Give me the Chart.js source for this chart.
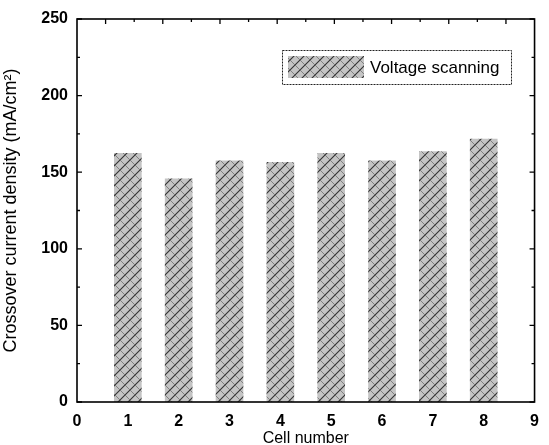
<!DOCTYPE html>
<html><head><meta charset="utf-8">
<script src="https://cdn.jsdelivr.net/npm/chart.js@4"></script>
<style>html,body{margin:0;padding:0;background:#fff}#c{display:block}</style>
</head><body>
<canvas id="c" width="549" height="445"></canvas>
<script>
const cells = [1, 2, 3, 4, 5, 6, 7, 8];
const crossoverCurrent = [162.3, 145.6, 157.5, 156.5, 162.3, 157.5, 163.4, 171.7];
const xTicks = [0, 1, 2, 3, 4, 5, 6, 7, 8, 9];
const yTicks = [0, 50, 100, 150, 200, 250];
const seriesLabel = 'Voltage scanning';
const xTitle = 'Cell number';
const yTitle = 'Crossover current density (mA/cm\u00B2)';

function makePattern() {
  const t = document.createElement('canvas');
  t.width = 10; t.height = 10;
  const g = t.getContext('2d');
  g.fillStyle = '#c4c4c4';
  g.fillRect(0, 0, 10, 10);
  g.strokeStyle = '#333';
  g.lineWidth = 1.1;
  g.beginPath();
  g.moveTo(-1, 11); g.lineTo(11, -1);
  g.moveTo(-1, 1); g.lineTo(1, -1);
  g.moveTo(9, 11); g.lineTo(11, 9);
  g.stroke();
  g.strokeStyle = '#707070';
  g.lineWidth = 0.8;
  g.beginPath();
  g.moveTo(-1, -1); g.lineTo(11, 11);
  g.stroke();
  return document.getElementById('c').getContext('2d').createPattern(t, 'repeat');
}
const pat = makePattern();
const FONT = '"Liberation Sans", Arial, sans-serif';

const frame = {
  id: 'frame',
  afterDatasetsDraw(chart) {
    const ctx = chart.ctx, a = chart.chartArea;
    const ys = chart.scales.y, xt = chart.scales.x2;
    ctx.save();
    ctx.strokeStyle = '#000';
    ctx.lineWidth = 1.6;
    ctx.strokeRect(a.left, a.top, a.right - a.left, a.bottom - a.top);
    ctx.lineWidth = 1.3;
    ctx.beginPath();
    for (let v = 0; v <= 250; v += 25) {
      const y = ys.getPixelForValue(v);
      const L = (v % 50 === 0) ? 5 : 3;
      ctx.moveTo(a.left, y); ctx.lineTo(a.left + L, y);
      ctx.moveTo(a.right, y); ctx.lineTo(a.right - L, y);
    }
    for (let v = -0.5; v <= 7.5; v += 0.5) {
      const x = xt.getPixelForValue(v);
      if (x <= a.left + 1 || x >= a.right - 1) continue;
      const L = (Math.abs(v % 1) < 1e-6) ? 5 : 3;
      ctx.moveTo(x, a.top); ctx.lineTo(x, a.top + L);
    }
    ctx.stroke();
    const bx = 282, by = 50, bw = 229, bh = 34;
    ctx.lineWidth = 1;
    ctx.strokeStyle = '#222';
    ctx.setLineDash([2, 1]);
    ctx.strokeRect(bx + 0.5, by + 0.5, bw, bh);
    ctx.setLineDash([]);
    ctx.fillStyle = pat;
    ctx.fillRect(bx + 6, by + 6, 76, 22);
    ctx.fillStyle = '#000';
    ctx.font = '17px ' + FONT;
    ctx.textBaseline = 'middle';
    ctx.fillText(chart.data.datasets[0].label, bx + 88, by + 18);
    ctx.restore();
  }
};

new Chart(document.getElementById('c'), {
  type: 'bar',
  data: {
    datasets: [{
      label: seriesLabel,
      data: cells.map((c, i) => ({ x: c, y: crossoverCurrent[i] })),
      backgroundColor: pat,
      borderWidth: 0,
      barThickness: 27
    }]
  },
  options: {
    responsive: false,
    animation: false,
    events: [],
    layout: { padding: { left: 0, right: 4, top: 0, bottom: 0 } },
    plugins: { legend: { display: false }, tooltip: { enabled: false } },
    scales: {
      x: {
        type: 'linear', min: 0, max: 9, position: 'bottom', offset: false,
        afterBuildTicks(s) { s.ticks = xTicks.map(v => ({ value: v })); },
        afterFit(s) { s.height = 43; },
        grid: { display: false, drawTicks: false, offset: false },
        border: { display: false },
        ticks: { color: '#000', padding: 10, font: { size: 16, weight: 'bold', family: FONT } },
        title: { display: true, text: xTitle, color: '#000', padding: { top: 0, bottom: -3 }, font: { size: 16, family: FONT } }
      },
      x2: {
        type: 'linear', min: -0.5, max: 7.5, position: 'top', offset: false,
        afterFit(s) { s.height = 19; },
        grid: { display: false, drawTicks: false, offset: false },
        border: { display: false },
        ticks: { display: false }
      },
      y: {
        min: 0, max: 250,
        afterBuildTicks(s) { s.ticks = yTicks.map(v => ({ value: v })); },
        afterFit(s) { s.width = 77; },
        grid: { display: false, drawTicks: false },
        border: { display: false },
        ticks: { color: '#000', padding: 9, font: { size: 16, weight: 'bold', family: FONT } },
        title: { display: true, text: yTitle, color: '#000', padding: { top: 0, bottom: 2 }, font: { size: 18, family: FONT } }
      }
    }
  },
  plugins: [frame]
});
</script>
</body></html>
